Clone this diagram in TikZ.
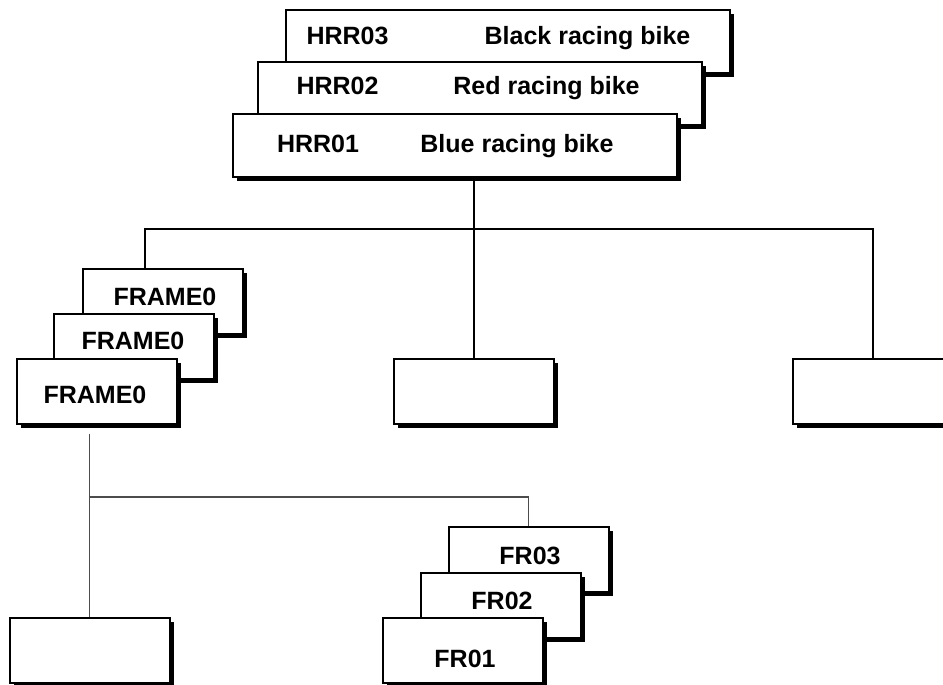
\documentclass[tikz,border=0pt]{standalone}
\usepackage{fontspec}
\setmainfont{Liberation Sans}
\usetikzlibrary{shadows}
\begin{document}
\begin{tikzpicture}[x=1pt,y=-1pt,
  box/.style={draw=black, line width=1.6pt, fill=white, anchor=north west, inner sep=0pt,
    drop shadow={shadow xshift=4pt, shadow yshift=-4pt, fill=black, opacity=1}},
  bigbox/.style={box, minimum width=444pt, minimum height=63pt},
  smallbox/.style={box, minimum width=160pt, minimum height=65pt},
  lbl/.style={anchor=base, inner sep=0pt, font=\fontsize{25}{30}\selectfont\bfseries},
  conn/.style={draw=black, line width=1.6pt},
  thinconn/.style={draw=black!70, line width=1.2pt}]
\useasboundingbox (0,0) rectangle (943,685);
\clip (0,0) rectangle (943,685);
% top stack
\node[bigbox] (hrr3) at (285,9) {};
\node[lbl] (t3a) at (347.5,45) {HRR03};
\node[lbl] (t3b) at (587.5,45) {Black racing bike};
\node[bigbox] (hrr2) at (257,61) {};
\node[lbl] (t2a) at (337.5,95) {HRR02};
\node[lbl] (t2b) at (546.5,95) {Red racing bike};
\node[bigbox] (hrr1) at (232,113) {};
\node[lbl] (t1a) at (318,152) {HRR01};
\node[lbl] (t1b) at (517,152) {Blue racing bike};
% frame stack
\node[smallbox] (f3) at (82,268) {};
\node[lbl] (ft3) at (165,305) {FRAME0};
\node[smallbox] (f2) at (53,313) {};
\node[lbl] (ft2) at (133,349) {FRAME0};
\node[smallbox] (f1) at (16,358) {};
\node[lbl] (ft1) at (95,403) {FRAME0};
% empty boxes
\node[smallbox] (mid) at (393,358) {};
\node[smallbox] (rgt) at (792,358) {};
\node[smallbox] (bl) at (9,617) {};
% FR stack
\node[smallbox] (fr3) at (448,526) {};
\node[lbl] (frt3) at (530,564) {FR03};
\node[smallbox] (fr2) at (420,572) {};
\node[lbl] (frt2) at (502,609) {FR02};
\node[smallbox] (fr1) at (382,617) {};
\node[lbl] (frt1) at (465,667) {FR01};
% connectors top
\coordinate (b1) at (145,229);
\draw[conn] (hrr1.south -| mid.north) -- (mid.north);
\draw[conn] (b1 |- f3.north) -- (b1) -- (b1 -| rgt.north) -- (rgt.north);
% connectors bottom
\coordinate (b2) at (89,497);
\draw[thinconn] ([yshift=-9pt]f1.south -| bl.north) -- (bl.north);
\draw[thinconn] (b2 -| bl.north) -- (b2 -| fr3.north) -- (fr3.north);
\end{tikzpicture}
\end{document}
